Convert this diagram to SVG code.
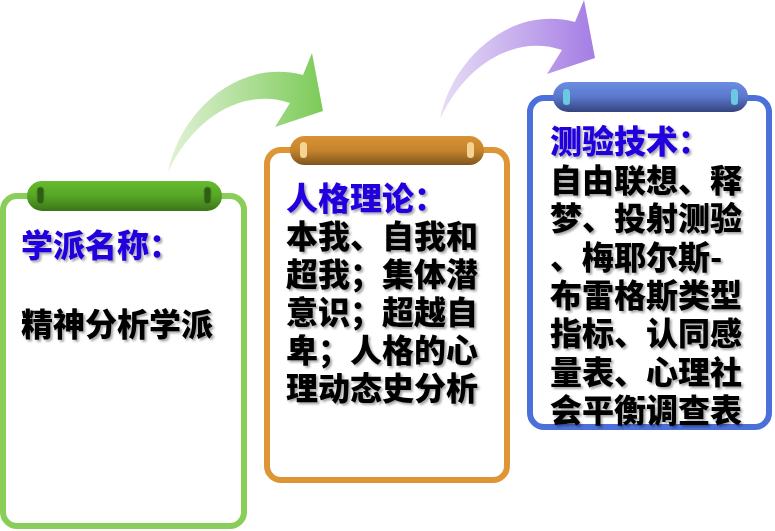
<svg xmlns="http://www.w3.org/2000/svg" width="775" height="531" viewBox="0 0 775 531">
<style>
.frame{fill:#fff;stroke-width:6}
.t{font-family:"Noto Sans CJK SC","Noto Sans",sans-serif;font-weight:900;font-size:32px}
.h{fill:#2200DD}
.b{fill:#000}
</style>
<defs>
<filter id="sh" x="-10%" y="-10%" width="130%" height="130%">
<feDropShadow dx="2" dy="2" stdDeviation="0.8" flood-color="#000" flood-opacity="0.35"/>
</filter>
<linearGradient id="gG" x1="0" y1="0" x2="0" y2="1"><stop offset="0" stop-color="#66BB2E"/><stop offset="0.5" stop-color="#57A526"/><stop offset="1" stop-color="#3A7518"/></linearGradient>
<linearGradient id="gO" x1="0" y1="0" x2="0" y2="1"><stop offset="0" stop-color="#D99233"/><stop offset="0.5" stop-color="#C5842C"/><stop offset="1" stop-color="#7E551E"/></linearGradient>
<linearGradient id="gB" x1="0" y1="0" x2="0" y2="1"><stop offset="0" stop-color="#6C8DE3"/><stop offset="0.5" stop-color="#5A77CC"/><stop offset="1" stop-color="#35447E"/></linearGradient>
<linearGradient id="aG" x1="0" y1="0" x2="1" y2="0"><stop offset="0" stop-color="#E2F2D8"/><stop offset="1" stop-color="#7CCB58"/></linearGradient>
<linearGradient id="aP" x1="0" y1="0" x2="1" y2="0"><stop offset="0" stop-color="#E8DEF6"/><stop offset="1" stop-color="#A57DE4"/></linearGradient>
<path id="arrow" d="M168,172 C180,112 238,58 303,75 L312,53 L323,111 L275,127 L290,103 C248,88 196,112 168,172 Z"/>
</defs>

<g id="connectors">
<use href="#arrow" fill="url(#aG)"/>
<use href="#arrow" fill="url(#aP)" transform="translate(272,-53)"/>
</g>

<g id="node-school">
<rect class="frame" x="3" y="196" width="241" height="330" rx="14" stroke="#88CE58"/>
<rect x="27" y="181" width="195" height="30" rx="15" fill="url(#gG)"/>
<rect x="37" y="187" width="7" height="17" rx="3.5" fill="#2E5E12" stroke="#4C8A26" stroke-width="1"/>
<rect x="204" y="187" width="7" height="17" rx="3.5" fill="#2E5E12" stroke="#4C8A26" stroke-width="1"/>
<g filter="url(#sh)">
<text class="t h" x="21" y="257">学派名称：</text>
<text class="t b" x="21" y="336">精神分析学派</text>
</g>
</g>

<g id="node-theory">
<rect class="frame" x="267" y="150" width="240" height="330" rx="14" stroke="#DD9535"/>
<rect x="290" y="136" width="194" height="29" rx="14.5" fill="url(#gO)"/>
<rect x="300" y="142" width="7" height="16" rx="3.5" fill="#F5D390"/>
<rect x="467" y="142" width="7" height="16" rx="3.5" fill="#F5D390"/>
<g filter="url(#sh)">
<text class="t h" x="286" y="210">人格理论：</text>
<text class="t b" x="286" y="248">本我、自我和</text>
<text class="t b" x="286" y="286">超我；集体潜</text>
<text class="t b" x="286" y="324">意识；超越自</text>
<text class="t b" x="286" y="362">卑；人格的心</text>
<text class="t b" x="286" y="400">理动态史分析</text>
</g>
</g>

<g id="node-tests">
<rect class="frame" x="530" y="98" width="239" height="329" rx="14" stroke="#4B70D9"/>
<rect x="553" y="82" width="195" height="30" rx="15" fill="url(#gB)"/>
<rect x="563" y="89" width="7" height="16" rx="3.5" fill="#6CC9E2"/>
<rect x="731" y="89" width="7" height="16" rx="3.5" fill="#6CC9E2"/>
<g filter="url(#sh)">
<text class="t h" x="550" y="153">测验技术：</text>
<text class="t b" x="550" y="192">自由联想、释</text>
<text class="t b" x="550" y="230">梦、投射测验</text>
<text class="t b" x="550" y="268.5">、梅耶尔斯-</text>
<text class="t b" x="550" y="307">布雷格斯类型</text>
<text class="t b" x="550" y="345">指标、认同感</text>
<text class="t b" x="550" y="383.5">量表、心理社</text>
<text class="t b" x="550" y="422">会平衡调查表</text>
</g>
</g>
</svg>
